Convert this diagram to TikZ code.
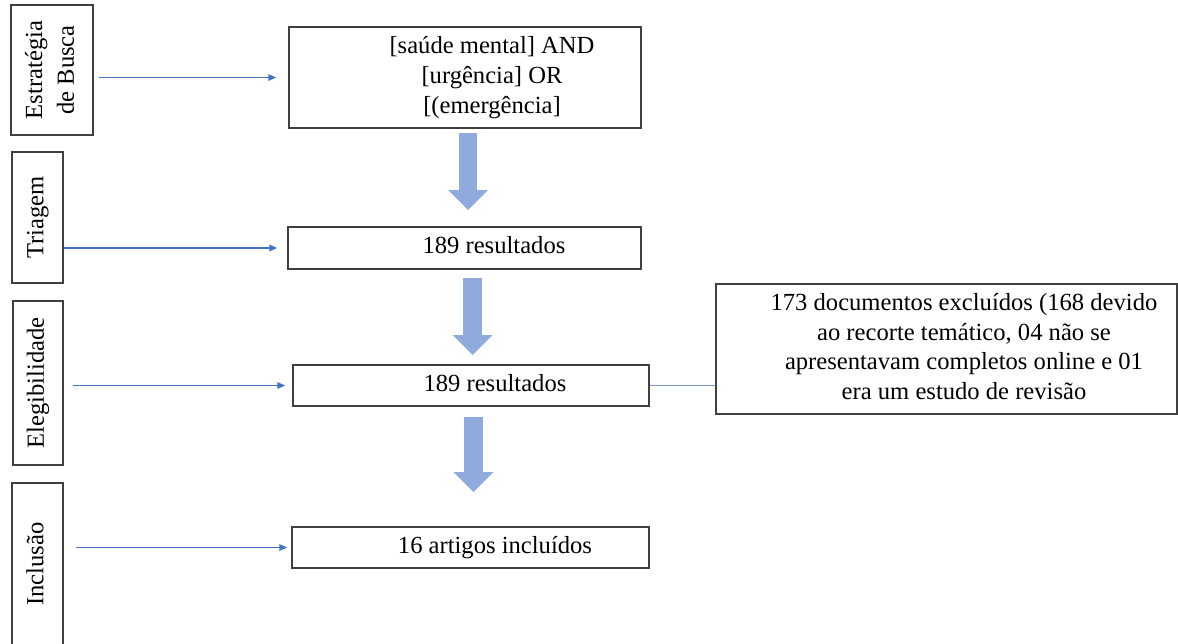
\documentclass[tikz,border=0pt]{standalone}
\usepackage{fontspec}
\usepackage{graphicx}
\setmainfont{LiberationSerif-Regular.ttf}[BoldFont=LiberationSerif-Bold.ttf]
\usetikzlibrary{arrows.meta}

\definecolor{flowblue}{HTML}{4472C4}
\definecolor{linkblue}{HTML}{7A9BD8}
\definecolor{blockblue}{HTML}{8FAADC}
\definecolor{boxgray}{HTML}{404040}

% text in a box, pushed to the right by half of #1
\newcommand{\offtext}[2]{\hspace*{#1}\begin{tabular}{@{}c@{}}#2\end{tabular}}

\begin{document}
\begin{tikzpicture}[x=0.2mm, y=-0.2mm,
    box/.style={draw=boxgray, line width=0.8pt, inner sep=0pt,
      font=\fontsize{14}{17}\selectfont},
    flow/.style={draw=flowblue, line width=0.8pt,
      -{Triangle[length=1.6mm, width=1.3mm]}},
    link/.style={draw=linkblue, line width=0.8pt},
    bigarrow/.style={draw=blockblue, line width=3.7mm,
      -{Triangle[length=4mm, width=8mm, line width=0pt]}}]

  \clip (0,0) rectangle (1178,643);

  % The stages on the left, text turned on its side
  \foreach \name/\x/\y/\w/\h/\lab in {
    busca/52/70/16.4mm/26mm/{Estratégia\\[1pt]de Busca},
    triagem/37.5/217.5/10.2mm/26.2mm/{Triagem},
    eleg/38/383/10mm/32.8mm/{Elegibilidade},
    incl/37.5/564/10.2mm/32.4mm/{Inclusão}} {
    \node [box, minimum width=\w, minimum height=\h] (\name) at (\x,\y)
      {\rotatebox{90}{\begin{tabular}{@{}c@{}}\lab\end{tabular}}};
  }

  % The boxes of the flow
  \node [box, minimum width=70.4mm, minimum height=20.2mm] (query) at (465,77.5)
    {\offtext{10.8mm}{[saúde mental] AND\\{}[urgência] OR\\{}[(emergência]}};
  \node [box, minimum width=70.6mm, minimum height=8.4mm] (res1) at (464.5,248)
    {\offtext{11.8mm}{189 resultados}};
  \node [box, minimum width=71.2mm, minimum height=8.2mm] (res2) at (471,385.5)
    {\offtext{9.6mm}{189 resultados}};
  \node [box, minimum width=71.4mm, minimum height=8.2mm] (artigos) at (470.5,547.5)
    {\offtext{9.8mm}{16 artigos incluídos}};
  \node [box, minimum width=92.2mm, minimum height=26mm] (excl) at (946.5,349)
    {\offtext{7mm}{173 documentos excluídos (168 devido\\ ao recorte temático, 04 não se\\
      apresentavam completos online e 01\\ era um estudo de revisão}};

  % Thin arrows from each stage to its box
  \foreach \a/\b/\s/\e in {
    busca/query/1mm/2.4mm,
    triagem/res1/0mm/2mm,
    eleg/res2/1.8mm/1.4mm,
    incl/artigos/2.4mm/0.8mm} {
    \draw [flow, shorten <=\s, shorten >=\e] (\a.east |- \b) -- (\b);
  }
  \draw [link] (res2.east) -- (res2.east -| excl.west);

  % The wide arrows between the boxes
  \foreach \n/\x/\ya/\yb in {1/468/133/210, 2/472.5/278/355, 3/473.5/417/492} {
    \coordinate (top\n) at (\x,\ya);
    \coordinate (tip\n) at (\x,\yb);
    \draw [bigarrow] (top\n) -- (tip\n);
  }
\end{tikzpicture}
\end{document}
